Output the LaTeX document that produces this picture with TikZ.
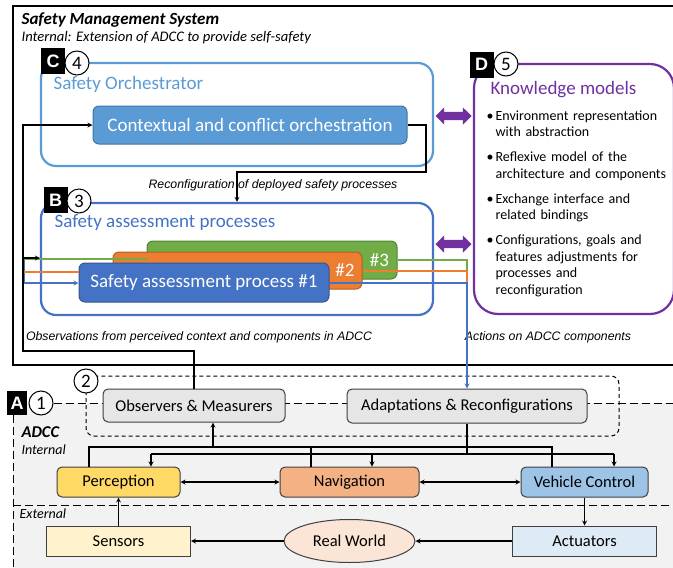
\documentclass[tikz,border=0pt]{standalone}
\usepackage{fontspec}
\setmainfont{Carlito}
\newfontfamily\arialfont{Liberation Sans}
\usetikzlibrary{positioning,shapes.geometric,shapes.arrows}

\definecolor{orchblue}{HTML}{5B9BD5}
\definecolor{assessblue}{HTML}{4472C4}
\definecolor{procgreen}{HTML}{70AD47}
\definecolor{procorange}{HTML}{ED7D31}
\definecolor{kmpurple}{HTML}{7030A0}
\definecolor{adccgray}{HTML}{F2F2F2}
\definecolor{boxgray}{HTML}{E7E6E6}
\definecolor{boxedge}{HTML}{404040}
\definecolor{percyellow}{HTML}{FFD966}
\definecolor{navorange}{HTML}{F4B183}
\definecolor{vcblue}{HTML}{9DC3E6}
\definecolor{sensyellow}{HTML}{FFF2CC}
\definecolor{worldpink}{HTML}{FBE5D6}
\definecolor{actblue}{HTML}{DEEBF7}

\newcommand{\fsz}[1]{\fontsize{#1}{#1}\selectfont}
\newcommand{\kmitem}[1]{\hangindent=9pt\hangafter=1\noindent\makebox[9pt][l]{\textbullet}#1\par}

\begin{document}
\begin{tikzpicture}[x=1pt,y=-1pt,>=stealth,line width=1.2pt,
    frame/.style={draw,line width=2.2pt,rounded corners=15pt,inner sep=0pt},
    letter/.style={fill=black,text=white,font=\arialfont\bfseries\fsz{18},minimum width=24pt,minimum height=26pt,inner sep=0pt},
    num/.style={circle,draw,fill=white,line width=1pt,minimum size=24pt,inner sep=0pt,font=\fsz{19}},
    proc/.style={draw=#1!75!black,fill=#1,line width=1pt,rounded corners=6pt,text=white,font=\fsz{19},inner sep=0pt},
    comp/.style={draw=boxedge,fill=#1,line width=1pt,rounded corners=5pt,minimum height=30pt,font=\fsz{16.5},inner sep=0pt},
    dev/.style={draw=boxedge,fill=#1,line width=1pt,minimum width=144pt,minimum height=30pt,font=\fsz{16.5},inner sep=0pt},
    note/.style={font=\arialfont\itshape\fsz{12.3},inner sep=0pt},
    head/.style={font=\fsz{19},inner sep=0pt,anchor=west},
    kmarrow/.style={double arrow,fill=kmpurple,minimum height=36pt,minimum width=17pt,double arrow head extend=4.5pt,inner sep=3.5pt},
    adccdash/.style={line width=1pt,dash pattern=on 8pt off 4pt},
    groupdash/.style={line width=1pt,dash pattern=on 4pt off 3pt,rounded corners=8pt}]

    \useasboundingbox (0,0) rectangle (673,568);

    \draw[line width=1.3pt] (13,6) rectangle (674,365);
    \fill[adccgray] (13,403) rectangle (674,569);

    \node[font=\bfseries\itshape\fsz{17},inner sep=0pt,anchor=west] (20) at (21,20) {Safety Management System};
    \node[font=\itshape\fsz{14.6},inner sep=0pt,anchor=west] (21) at (21,38) {Internal: Extension of ADCC to provide self-safety};

    \node[frame,draw=orchblue,minimum width=392pt,minimum height=103pt] (3) at (237,114.5) {};
    \node[letter] (1) at (53,61) {C};
    \node[num] (2) at (77,63) {4};
    \node[head,text=orchblue] (4) at (53,84) {Safety Orchestrator};
    \node[proc=orchblue,minimum width=314pt,minimum height=38pt] (5) at (250,125) {Contextual and conflict orchestration};

    \node[frame,draw=assessblue,minimum width=392pt,minimum height=112pt] (8) at (237,259) {};
    \node[letter] (6) at (55.5,200) {B};
    \node[num] (7) at (79,201) {3};
    \node[head,text=assessblue] (9) at (54,223) {Safety assessment processes};
    \node[proc=procgreen,minimum width=250pt,minimum height=38pt,text width=234pt,align=right] (10) at (272,260) {\#3};
    \node[proc=procorange,minimum width=249pt,minimum height=37pt,text width=234pt,align=right] (11) at (237.5,270.5) {\#2};
    \node[proc=assessblue,minimum width=250pt,minimum height=39pt] (12) at (204,282.5) {Safety assessment process \#1};

    \node[frame,draw=kmpurple,rounded corners=24pt,minimum width=200pt,minimum height=250pt] (15) at (574,189) {};
    \node[letter] (13) at (481.5,64.5) {D};
    \node[num] (14) at (506,64) {5};
    \node[head,text=kmpurple] (16) at (490,90) {Knowledge models};
    \node[anchor=north west,inner sep=0pt,text width=185pt,font=\fontsize{14}{16.5}\selectfont] (17) at (486,110) {\setlength{\parskip}{8.5pt}%
        \kmitem{Environment representation\newline with abstraction}%
        \kmitem{Reflexive model of the\newline architecture and components}%
        \kmitem{Exchange interface and\newline related bindings}%
        \kmitem{Configurations, goals and\newline features adjustments for\newline processes and\newline reconfiguration}};

    \node[kmarrow] (18) at (453.5,116) {};
    \node[kmarrow] (19) at (453.5,244) {};

    \coordinate (c1) at (426,172);
    \draw[->] (5.east) -| (c1) -| (8.north);
    \node[note] (22) at (273,185) {Reconfiguration of deployed safety processes};

    \coordinate (l1) at (24,259);
    \coordinate (l2) at (24,272);
    \coordinate (l3) at (24,283);
    \draw[assessblue] (l1) -- (l3);
    \draw[procgreen] (l1) -- (l1 -| 10.west);
    \draw[procorange] (l2) -- (l2 -| 12.west);
    \draw[->,assessblue] (l3) -- (l3 -| 12.west);

    \coordinate (r1) at (467,260);
    \coordinate (r2) at (467,271);
    \coordinate (r3) at (467,283);
    \draw[procgreen] (r1 -| 10.east) -- (r1) -- (r2);
    \draw[procorange] (r2 -| 11.east) -- (r2) -- (r3);

    \node[note] (23) at (199,337) {Observations from perceived context and components in ADCC};
    \node[note] (24) at (548,337) {Actions on ADCC components};

    \node[letter,minimum width=20pt,minimum height=24pt] (25) at (17,403) {A};
    \node[num] (26) at (41,403) {1};
    \draw[adccdash] (26.east) -- (674,403);
    \draw[adccdash] (13,415) -- (13,569);
    \draw[adccdash] (13,505) -- (674,505);
    \draw[groupdash] (86,376) rectangle (619,436);
    \node[num] (27) at (86,381) {2};

    \node[font=\bfseries\itshape\fsz{16.5},inner sep=0pt,anchor=west] (28) at (21,432) {ADCC};
    \node[font=\itshape\fsz{14},inner sep=0pt,anchor=west] (29) at (21,450) {Internal};
    \node[font=\itshape\fsz{14},inner sep=0pt,anchor=west] (30) at (19,514) {External};

    \node[comp=boxgray,minimum width=182pt,minimum height=33pt] (31) at (194,405.5) {Observers \& Measurers};
    \node[comp=boxgray,minimum width=240pt,minimum height=34pt] (32) at (467,406) {Adaptations \& Reconfigurations};
    \node[comp=percyellow,minimum width=123pt] (33) at (118.5,482) {Perception};
    \node[comp=navorange,minimum width=139pt,right=99pt of 33] (34) {Navigation};
    \node[comp=vcblue,minimum width=127pt,right=101pt of 34] (35) {Vehicle Control};
    \node[dev=sensyellow,below=28pt of 33] (36) {Sensors};
    \node[ellipse,draw=boxedge,fill=worldpink,line width=1pt,minimum width=131pt,minimum height=43pt,inner sep=0pt,font=\fsz{16.5}] (37) at (34 |- 36) {Real World};
    \node[dev=actblue,below=28pt of 35] (38) {Actuators};

    \coordinate (c2) at (23,351);
    \draw[->] (31.north) |- (c2) |- (5.west);
    \coordinate (c3) at (23,258);
    \draw[->] (c3) -- (c3 -| 8.west);
    \draw[->,assessblue] (r3 -| 12.east) -- (r3) -- (32.north);

    \path
        (36) edge[->] (33)
        (37) edge[->] (36)
        (38) edge[->] (37)
        (35) edge[->] (38)
        (33) edge[<->] (34)
        (34) edge[<->] (35)
    ;

    \coordinate (b1) at (89,447);
    \coordinate (b2) at (552,447);
    \coordinate (b3) at (311,447);
    \coordinate (b4) at (213,447);
    \draw (b1 |- 33.north) -- (b1) -- (b2) -- (b2 |- 35.north);
    \draw (b3) -- (b3 |- 34.north);
    \draw[->] (b4) -- (b4 |- 31.south);

    \coordinate (a1) at (151,454);
    \coordinate (a2) at (614,454);
    \coordinate (a3) at (372,454);
    \draw (32.south) -- (32.south |- a1);
    \draw (a1) -- (a2);
    \draw[->] (a1) -- (a1 |- 33.north);
    \draw[->] (a3) -- (a3 |- 34.north);
    \draw[->] (a2) -- (a2 |- 35.north);
\end{tikzpicture}
\end{document}
